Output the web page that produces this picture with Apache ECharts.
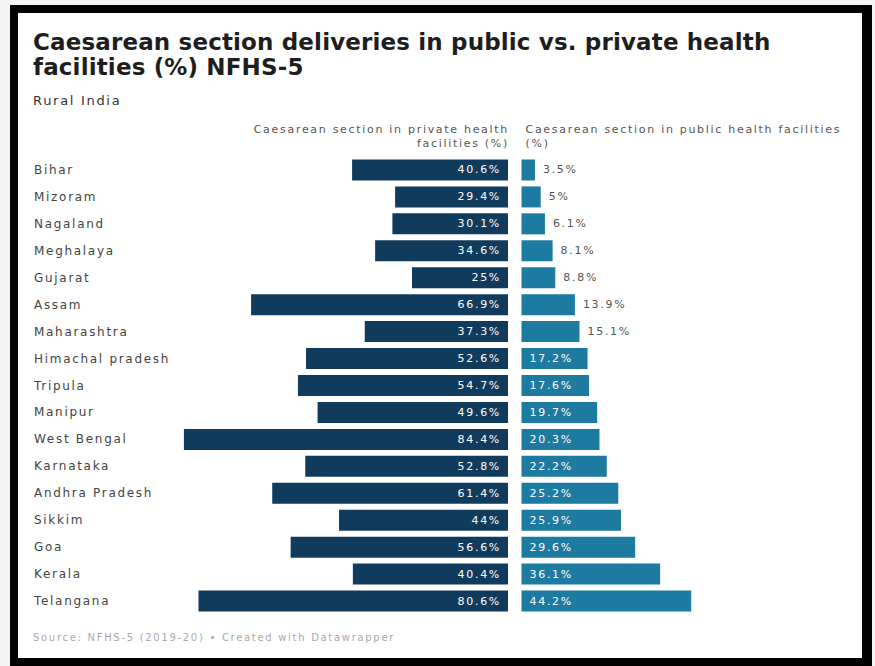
<!DOCTYPE html>
<html>
<head>
<meta charset="utf-8">
<script src="https://cdn.jsdelivr.net/npm/echarts@6/dist/echarts.min.js"></script>
<style>
html,body{margin:0;padding:0;background:#f4f4f4;}
#frame{position:absolute;left:10px;top:5px;width:844px;height:645px;border:8px solid #000;border-right-width:10px;background:#fff;}
#chart{position:absolute;left:0;top:0;width:875px;height:666px;}
#chart text{letter-spacing:1.7px;}
#chart text[style*="bold"]{letter-spacing:0.15px;}
</style>
</head>
<body>
<div id="frame"></div>
<div id="chart"></div>
<script>
const states = ["Bihar","Mizoram","Nagaland","Meghalaya","Gujarat","Assam","Maharashtra","Himachal pradesh","Tripula","Manipur","West Bengal","Karnataka","Andhra Pradesh","Sikkim","Goa","Kerala","Telangana"];
const privateValues = [40.6,29.4,30.1,34.6,25,66.9,37.3,52.6,54.7,49.6,84.4,52.8,61.4,44,56.6,40.4,80.6];
const publicValues = [3.5,5,6.1,8.1,8.8,13.9,15.1,17.2,17.6,19.7,20.3,22.2,25.2,25.9,29.6,36.1,44.2];

const titleText = "Caesarean section deliveries in public vs. private health\nfacilities (%) NFHS-5";
const subtitleText = "Rural India";
const privateHeader = "Caesarean section in private health\nfacilities (%)";
const publicHeader = "Caesarean section in public health facilities\n(%)";
const sourceText = "Source: NFHS-5 (2019-20) \u2022 Created with Datawrapper";

const FONT = "'DejaVu Sans', Roboto, Arial, sans-serif";
const darkBlue = "#103b5d";
const teal = "#1d7aa0";

const chart = echarts.init(document.getElementById('chart'), null, {renderer:'svg'});

const pxPerUnit = 3.84;
const leftRight = 508, rightLeft = 521.5;
const leftMax = Math.max(...privateValues), rightMax = Math.max(...publicValues);
const leftGridLeft = leftRight - leftMax*pxPerUnit;
const rightGridWidth = rightMax*pxPerUnit;
const gridTop = 156.5, gridHeight = 458;

const publicData = publicValues.map(v => {
  const inside = v >= 17;
  return {
    value: v,
    label: inside
      ? {position:'insideLeft', color:'#ffffff', distance:8}
      : {position:'right', color:'#555555', distance:8}
  };
});

chart.setOption({
  animation:false,
  backgroundColor:'transparent',
  title:[
    {text:titleText, left:28, top:24, textStyle:{fontFamily:FONT, fontSize:23, fontWeight:'bold', color:'#1e1e1e', lineHeight:25}},
    {text:subtitleText, left:28, top:89, textStyle:{fontFamily:FONT, fontSize:13, fontWeight:'normal', color:'#333333'}},
    {text:privateHeader, left:504, top:117, textAlign:'right', textStyle:{fontFamily:FONT, fontSize:11, fontWeight:'normal', color:'#555555', lineHeight:14, align:'right'}},
    {text:publicHeader, left:rightLeft-1, top:117, textStyle:{fontFamily:FONT, fontSize:11, fontWeight:'normal', color:'#555555', lineHeight:14}},
    {text:sourceText, left:28, top:627, textStyle:{fontFamily:FONT, fontSize:10, fontWeight:'normal', color:'#aaaaaa'}}
  ],
  grid:[
    {left:leftGridLeft, width:leftRight-leftGridLeft, top:gridTop, height:gridHeight},
    {left:rightLeft, width:rightGridWidth, top:gridTop, height:gridHeight}
  ],
  xAxis:[
    {gridIndex:0, type:'value', min:0, max:leftMax, inverse:true, show:false},
    {gridIndex:1, type:'value', min:0, max:rightMax, show:false}
  ],
  yAxis:[
    {gridIndex:0, type:'category', data:states, inverse:true, position:'left',
     axisLine:{show:false, onZero:false}, axisTick:{show:false},
     axisLabel:{align:'left', margin:leftGridLeft-34, fontFamily:FONT, fontSize:12, color:'#444444'}},
    {gridIndex:1, type:'category', data:states, inverse:true, show:false}
  ],
  series:[
    {type:'bar', xAxisIndex:0, yAxisIndex:0, data:privateValues, barWidth:21,
     itemStyle:{color:darkBlue},
     label:{show:true, position:'insideRight', color:'#ffffff', fontFamily:FONT, fontSize:11, distance:7, formatter:p=>p.value+'%'}},
    {type:'bar', xAxisIndex:1, yAxisIndex:1, data:publicData, barWidth:21,
     itemStyle:{color:teal},
     label:{show:true, fontFamily:FONT, fontSize:11, formatter:p=>p.value+'%'}}
  ]
});
</script>
</body>
</html>
